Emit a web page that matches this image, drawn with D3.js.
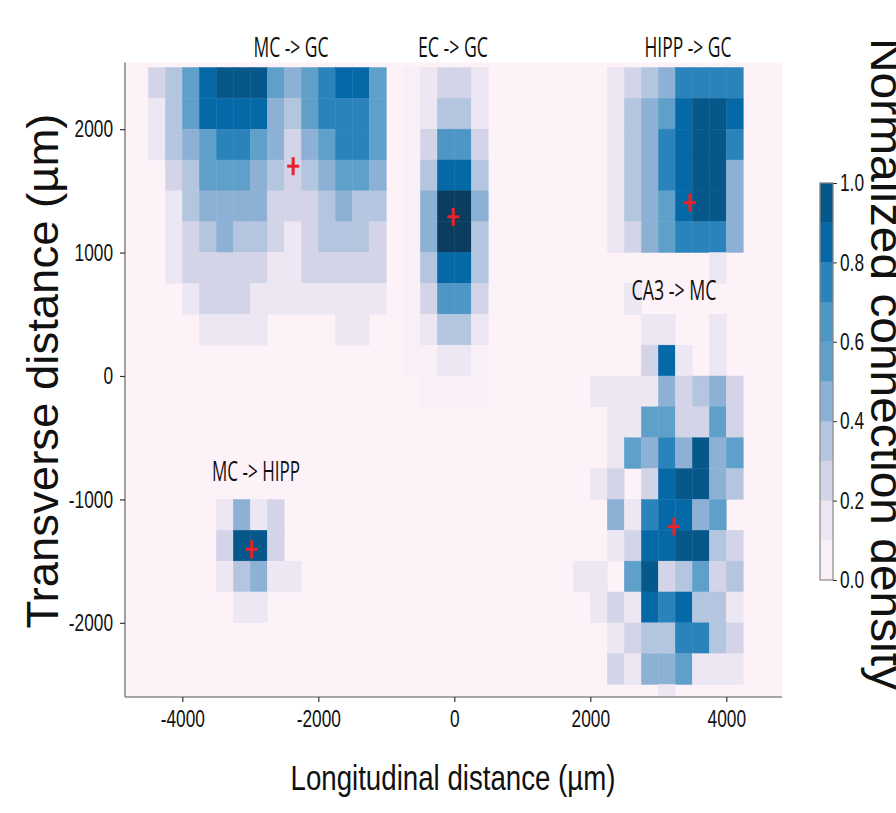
<!DOCTYPE html>
<html><head><meta charset="utf-8">
<script src="https://cdn.jsdelivr.net/npm/d3@7"></script>
<style>body{margin:0;background:#fff;} svg{display:block}</style>
</head><body>
<svg id="chart" width="896" height="813"></svg>
<script>
// ---------------- DATA ----------------
const CELL = 250; // bin size in µm
const panelNames = ["MC -> GC", "EC -> GC", "HIPP -> GC", "CA3 -> MC", "MC -> HIPP"];
const panelX0 = [-4500, -750, 2250, 1750, -3500];   // left edge of first bin (µm)
const panelYTop = [2500, 2500, 2500, 750, -1000];   // top edge of first row (µm)

const mcGcValues = [
  [0.25,0.35,0.55,0.85,0.95,0.95,0.95,0.55,0.45,0.55,0.75,0.85,0.85,0.55],
  [0.15,0.35,0.55,0.85,0.85,0.85,0.85,0.40,0.35,0.55,0.75,0.75,0.75,0.55],
  [0.15,0.35,0.45,0.55,0.75,0.75,0.55,0.45,0.25,0.45,0.55,0.75,0.75,0.55],
  [0,0.25,0.35,0.55,0.55,0.55,0.45,0.35,0.25,0.35,0.45,0.55,0.55,0.45],
  [0,0.15,0.35,0.45,0.45,0.45,0.45,0.25,0.25,0.25,0.35,0.45,0.35,0.35],
  [0,0.15,0.25,0.35,0.45,0.35,0.35,0.25,0.15,0.25,0.35,0.35,0.35,0.25],
  [0,0.15,0.25,0.25,0.25,0.25,0.25,0.15,0.15,0.25,0.25,0.25,0.25,0.25],
  [0,0,0.15,0.25,0.25,0.25,0.15,0.15,0.15,0.15,0.15,0.15,0.15,0.15],
  [0,0,0,0.15,0.15,0.15,0.15,0,0,0,0,0.15,0.15,0]
];
const ecGcValues = [
  [0.05,0.15,0.25,0.25,0.15],
  [0.05,0.15,0.38,0.33,0.15],
  [0.05,0.25,0.62,0.62,0.25],
  [0.05,0.35,0.85,0.85,0.35],
  [0.05,0.42,1.00,1.00,0.42],
  [0.05,0.42,1.00,1.00,0.35],
  [0.05,0.35,0.85,0.85,0.35],
  [0.05,0.25,0.62,0.62,0.25],
  [0.05,0.15,0.35,0.35,0.15],
  [0.05,0.05,0.15,0.15,0.05],
  [0,0.05,0.05,0.05,0.05]
];
const hippGcValues = [
  [0.15,0.25,0.35,0.45,0.75,0.75,0.75,0.75],
  [0.15,0.35,0.45,0.55,0.85,0.95,0.95,0.85],
  [0.15,0.35,0.45,0.75,0.85,0.95,0.95,0.75],
  [0.15,0.35,0.45,0.75,0.85,0.95,0.95,0.45],
  [0.15,0.35,0.45,0.55,0.85,0.95,0.95,0.45],
  [0.15,0.25,0.45,0.55,0.75,0.75,0.75,0.45],
  [0,0,0,0,0,0,0.15,0],
  [0,0.15,0,0,0,0,0,0]
];
const ca3McValues = [
  [0,0,0,0.15,0,0,0,0,0,0],
  [0,0,0,0,0.15,0.15,0,0,0.15,0],
  [0,0,0,0,0.25,0.85,0.15,0,0.15,0],
  [0,0.15,0.15,0.15,0.15,0.45,0.25,0.35,0.45,0.25],
  [0,0,0.15,0.15,0.55,0.55,0.25,0.25,0.55,0.25],
  [0,0,0.15,0.55,0.45,0.75,0.45,0.95,0.45,0.55],
  [0,0.15,0.25,0,0.25,0.85,0.95,0.95,0.45,0.35],
  [0,0,0.45,0.15,0.75,0.85,0.85,0.45,0.55,0],
  [0,0,0.15,0.25,0.85,0.85,0.95,0.95,0.35,0.25],
  [0.15,0.15,0,0.55,0.95,0.25,0.35,0.55,0.25,0.35],
  [0,0.15,0.25,0.15,0.85,0.75,0.85,0.35,0.35,0.15],
  [0,0,0.15,0.25,0.35,0.35,0.75,0.75,0.35,0.25],
  [0,0,0.25,0.15,0.45,0.45,0.55,0.15,0.15,0.15],
  [0,0,0,0,0,0.15,0,0,0,0]
];
const mcHippValues = [
  [0.15,0.45,0.15,0.25,0],
  [0.25,0.95,0.95,0.25,0],
  [0.15,0.35,0.45,0.15,0.15],
  [0,0.15,0.15,0,0]
];
const panelValues = [mcGcValues, ecGcValues, hippGcValues, ca3McValues, mcHippValues];

const centroidX = [-2370, -15, 3465, 3230, -2980];
const centroidY = [1700, 1290, 1405, -1220, -1405];

const xTicks = [-4000, -2000, 0, 2000, 4000];
const yTicks = [-2000, -1000, 0, 1000, 2000];
const cbTicks = [0, 0.2, 0.4, 0.6, 0.8, 1.0];
const levelThresholds = [0.1,0.2,0.3,0.4,0.5,0.6,0.7,0.8,0.9,0.995];

// ---------------- STYLE / LAYOUT ----------------
const levelColors = ["#f8f0f6","#ece7f2","#d3d4e8","#b3c5df","#8db1d5",
                     "#5fa0cb","#4d96c5","#2a83bb","#0569a8","#06578a","#0b3d5f"];
const bgColor = "#fdf2f8";
const plot = {left:125, right:782, top:62.5, bottom:697};
const svg = d3.select("#chart");
const x = d3.scaleLinear().domain([-4843, 4819]).range([plot.left, plot.right]);
const y = d3.scaleLinear().domain([-2601, 2540]).range([plot.bottom, plot.top]);
const color = d3.scaleThreshold().domain(levelThresholds).range(levelColors);

svg.append("rect").attr("x",0).attr("y",0).attr("width",896).attr("height",813).attr("fill","#fff");
svg.append("defs").append("clipPath").attr("id","clip").append("rect")
  .attr("x",plot.left).attr("y",plot.top).attr("width",plot.right-plot.left).attr("height",plot.bottom-plot.top);
svg.append("rect").attr("x",plot.left).attr("y",plot.top)
  .attr("width",plot.right-plot.left).attr("height",plot.bottom-plot.top).attr("fill",bgColor);

// cells
const cells = [];
panelValues.forEach((m,p)=>{
  m.forEach((row,r)=>{
    row.forEach((v,c)=>{
      if(v>0){
        const x0 = panelX0[p] + c*CELL, yT = panelYTop[p] - r*CELL;
        cells.push({x0, x1:x0+CELL, y0:yT-CELL, y1:yT, v});
      }
    });
  });
});
svg.append("g").attr("clip-path","url(#clip)").selectAll("rect").data(cells).join("rect")
  .attr("x",d=>x(d.x0)).attr("width",d=>x(d.x1)-x(d.x0))
  .attr("y",d=>y(d.y1)).attr("height",d=>y(d.y0)-y(d.y1))
  .attr("fill",d=>color(d.v)).attr("stroke",d=>color(d.v)).attr("stroke-width",0.4);

// centroid crosses
const crossG = svg.append("g");
centroidX.forEach((cx,i)=>{
  const px = x(cx), py = y(centroidY[i]);
  crossG.append("line").attr("x1",px-6).attr("x2",px+6).attr("y1",py).attr("y2",py)
    .attr("stroke","#e8222b").attr("stroke-width",3);
  crossG.append("line").attr("x1",px).attr("x2",px).attr("y1",py-9).attr("y2",py+9)
    .attr("stroke","#e8222b").attr("stroke-width",3);
});

// panel titles
const titlePos = [[291,57,75],[453,57,70],[688,57,87],[674,300,85],[256,481,88]];
panelNames.forEach((t,i)=>{
  svg.append("text").attr("x",titlePos[i][0]).attr("y",titlePos[i][1])
    .attr("text-anchor","middle").attr("font-family","Open Sans, Liberation Sans, sans-serif")
    .attr("font-size",27).attr("fill","#111")
    .attr("textLength",titlePos[i][2]).attr("lengthAdjust","spacingAndGlyphs").text(t);
});

// axes
const tickFont = "Liberation Sans, Arial, sans-serif";
const xAxis = svg.append("g").attr("transform",`translate(0,${plot.bottom})`)
  .call(d3.axisBottom(x).tickValues(xTicks).tickSize(5).tickSizeOuter(0).tickPadding(8).tickFormat(d=>String(d)));
const yAxis = svg.append("g").attr("transform",`translate(${plot.left},0)`)
  .call(d3.axisLeft(y).tickValues(yTicks).tickSize(5).tickSizeOuter(0).tickPadding(4).tickFormat(d=>String(d)));
[xAxis,yAxis].forEach(g=>{
  g.select(".domain").attr("stroke","#8a8a8a").attr("stroke-width",1.6);
  g.selectAll(".tick line").attr("stroke","#333").attr("stroke-width",1.2);
  g.selectAll(".tick text").attr("font-family",tickFont).attr("font-size",24).attr("fill","#111");
});
xAxis.selectAll(".tick text").attr("transform","scale(0.72,1)");
yAxis.selectAll(".tick text").attr("transform","scale(0.72,1)").attr("x",-12/0.72);
xAxis.select(".domain").attr("d",`M${plot.left},0H${plot.right}`);
yAxis.select(".domain").attr("d",`M0,${plot.top}V${plot.bottom}`);

// axis titles
svg.append("text").attr("x",453).attr("y",790).attr("text-anchor","middle")
  .attr("font-family",tickFont).attr("font-size",35).attr("fill","#111")
  .attr("textLength",325).attr("lengthAdjust","spacingAndGlyphs").text("Longitudinal distance (µm)");
svg.append("text").attr("transform","translate(58,371) rotate(-90)").attr("text-anchor","middle")
  .attr("font-family",tickFont).attr("font-size",45).attr("fill","#111")
  .attr("textLength",515).attr("lengthAdjust","spacingAndGlyphs").text("Transverse distance (µm)");

// colorbar
const cb = {x:820, w:13, top:183, bottom:580};
const cy = d3.scaleLinear().domain([0,1]).range([cb.bottom, cb.top]);
const bands = d3.range(10).map(i=>({a:i/10,b:(i+1)/10}));
svg.append("g").selectAll("rect").data(bands).join("rect")
  .attr("x",cb.x).attr("width",cb.w).attr("y",d=>cy(d.b)).attr("height",d=>cy(d.a)-cy(d.b))
  .attr("fill",d=>color((d.a+d.b)/2)).attr("stroke",d=>color((d.a+d.b)/2)).attr("stroke-width",0.3);
svg.append("rect").attr("x",cb.x).attr("y",cb.top).attr("width",cb.w).attr("height",cb.bottom-cb.top)
  .attr("fill","none").attr("stroke","#8a8a8a").attr("stroke-width",1.2);
const cbAxis = svg.append("g").attr("transform",`translate(${cb.x+cb.w},0)`)
  .call(d3.axisRight(cy).tickValues(cbTicks).tickSize(4).tickPadding(3).tickFormat(d3.format(".1f")));
cbAxis.select(".domain").remove();
cbAxis.selectAll(".tick line").attr("stroke","#333");
cbAxis.selectAll(".tick text").attr("font-family",tickFont).attr("font-size",24).attr("fill","#111")
  .attr("transform","scale(0.72,1)").attr("x",7/0.72);
svg.append("text").attr("transform","translate(871,364) rotate(90)").attr("text-anchor","middle")
  .attr("font-family",tickFont).attr("font-size",46).attr("fill","#111")
  .attr("textLength",652).attr("lengthAdjust","spacingAndGlyphs").text("Normalized connection density");
</script>
</body></html>
